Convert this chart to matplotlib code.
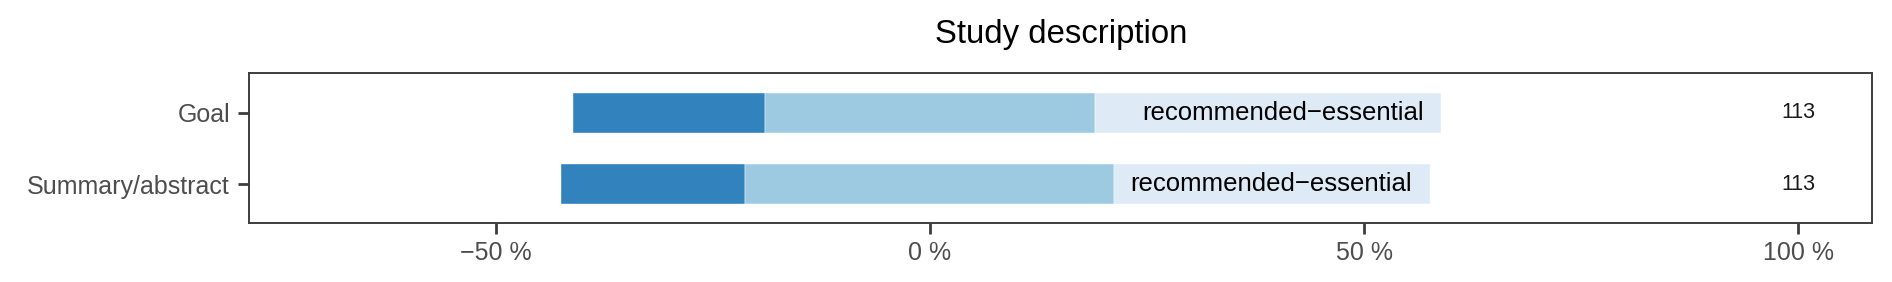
import numpy as np
import matplotlib
matplotlib.use("Agg")
import matplotlib.pyplot as plt

plt.rcParams['font.family'] = ['Liberation Sans', 'DejaVu Sans']

# answers per item (counts), from lowest to highest level
items = ["Goal", "Summary/abstract"]
low = np.array([25, 24])
mid = np.array([43, 48])
high = np.array([45, 41])
n_resp = np.array([113, 113])
bar_label = "recommended\u2212essential"

colors = ["#3182bd", "#9ecae1", "#deebf7"]
grey = "#3d3d3d"

p_low = low / n_resp * 100
p_mid = mid / n_resp * 100
p_high = high / n_resp * 100
start = -p_low - p_mid / 2
ypos = np.arange(len(items))[::-1]

fig = plt.figure(figsize=(18.92, 2.82), dpi=100)
ax = fig.add_axes([0.1318, 0.2082, 0.8578, 0.534])

h = 0.56
ax.barh(ypos, p_low, left=start, height=h, color=colors[0], edgecolor="white", linewidth=0.3)
ax.barh(ypos, p_mid, left=start + p_low, height=h, color=colors[1], edgecolor="white", linewidth=0.3)
ax.barh(ypos, p_high, left=start + p_low + p_mid, height=h, color=colors[2], edgecolor="white", linewidth=0.3)

end = start + p_low + p_mid + p_high
for y, e, n in zip(ypos, end, n_resp):
    ax.text(e - 2, y, bar_label, ha="right", va="center", fontsize=18.5, color="black")
    ax.text(100, y, str(n), ha="center", va="center", fontsize=15.5, color="#1a1a1a")

ax.set_xlim(-78.36, 108.5)
ax.set_ylim(-0.551, 1.561)
ticks = [-50, 0, 50, 100]
ax.set_xticks(ticks)
ax.set_xticklabels([f"{t} %".replace("-", "\u2212") for t in ticks])
ax.set_yticks(ypos)
ax.set_yticklabels(items)

for s in ax.spines.values():
    s.set_color(grey)
    s.set_linewidth(1.4)
ax.tick_params(axis="both", length=8, width=2, color=grey, labelcolor="#4d4d4d", labelsize=18)
ax.tick_params(axis="x", pad=5)
ax.tick_params(axis="y", pad=6)

fig.text(0.5607, 1 - 43 / 282, "Study description", ha="center", va="baseline", fontsize=23.7, color="black")

fig.savefig("out.png", dpi=100)
